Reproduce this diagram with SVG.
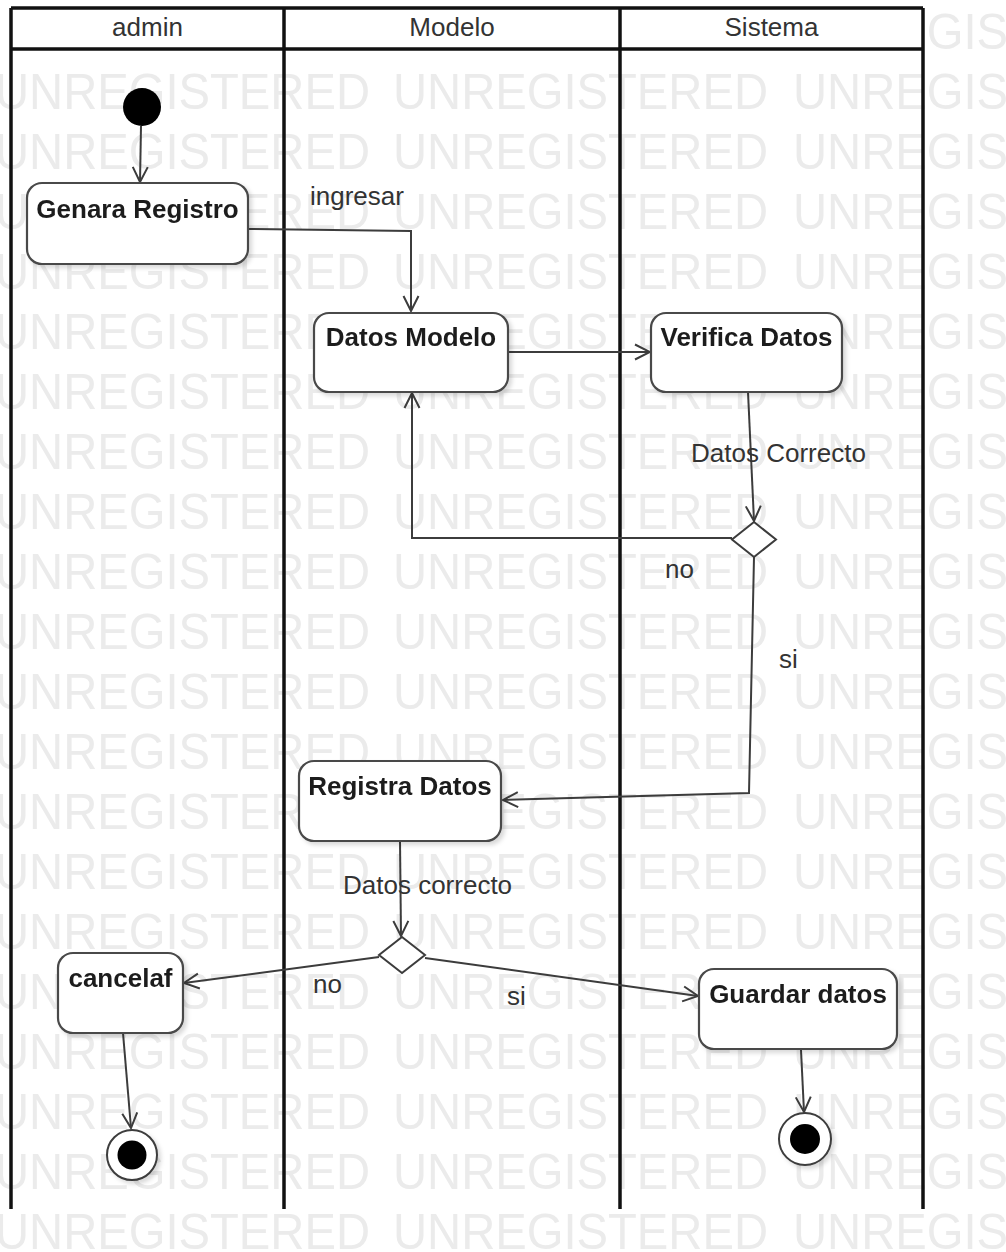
<svg xmlns="http://www.w3.org/2000/svg" width="1006" height="1252" viewBox="0 0 1006 1252">
  <defs>
    <style>
      .wm { font-family: "Liberation Sans", Arial, sans-serif; font-size: 50px; fill: #ebebeb; }
      .lane { stroke: #111; stroke-width: 3.5; fill: none; }
      .head { font-family: "Liberation Sans", Arial, sans-serif; font-size: 26px; fill: #333; text-anchor: middle; }
      .act { fill: #fff; stroke: #4a4a4a; stroke-width: 2.2; }
      .actlbl { font-family: "Liberation Sans", Arial, sans-serif; font-size: 26px; font-weight: bold; fill: #1e1e1e; text-anchor: middle; }
      .edge { fill: none; stroke: #3c3c3c; stroke-width: 2; }
      .elbl { font-family: "Liberation Sans", Arial, sans-serif; font-size: 26px; fill: #333; }
      .dec { fill: #fff; stroke: #3c3c3c; stroke-width: 2; }
    </style>
    <marker id="open" viewBox="0 0 18 18" refX="16" refY="9" markerWidth="18" markerHeight="18" markerUnits="userSpaceOnUse" orient="auto">
      <path d="M1,1.5 L16,9 L1,16.5" fill="none" stroke="#3c3c3c" stroke-width="2"/>
    </marker>
    <filter id="shadow" x="-10%" y="-10%" width="125%" height="130%">
      <feDropShadow dx="3" dy="3" stdDeviation="2" flood-color="#000" flood-opacity="0.15"/>
    </filter>
    <clipPath id="right-margin">
      <rect x="925" y="0" width="81" height="60"/>
    </clipPath>
  </defs>

  <rect x="0" y="0" width="1006" height="1252" fill="#fff"/>

  <!-- background watermark rows -->
  <g id="watermark">
    <g id="wm-row">
      <text class="wm" x="-5" y="109" textLength="375" lengthAdjust="spacingAndGlyphs">UNREGISTERED</text>
      <text class="wm" x="393" y="109" textLength="375" lengthAdjust="spacingAndGlyphs">UNREGISTERED</text>
      <text class="wm" x="793" y="109" textLength="375" lengthAdjust="spacingAndGlyphs">UNREGISTERED</text>
    </g>
    <text class="wm" x="793" y="49" textLength="375" lengthAdjust="spacingAndGlyphs" clip-path="url(#right-margin)">UNREGISTERED</text>
    <use href="#wm-row" y="60"/>
    <use href="#wm-row" y="120"/>
    <use href="#wm-row" y="180"/>
    <use href="#wm-row" y="240"/>
    <use href="#wm-row" y="300"/>
    <use href="#wm-row" y="360"/>
    <use href="#wm-row" y="420"/>
    <use href="#wm-row" y="480"/>
    <use href="#wm-row" y="540"/>
    <use href="#wm-row" y="600"/>
    <use href="#wm-row" y="660"/>
    <use href="#wm-row" y="720"/>
    <use href="#wm-row" y="780"/>
    <use href="#wm-row" y="840"/>
    <use href="#wm-row" y="900"/>
    <use href="#wm-row" y="960"/>
    <use href="#wm-row" y="1020"/>
    <use href="#wm-row" y="1080"/>
    <use href="#wm-row" y="1140"/>
  </g>

  <!-- swimlanes -->
  <g id="lanes">
    <rect x="11" y="8" width="912" height="41" fill="#fff"/>
    <line class="lane" x1="11" y1="8" x2="923" y2="8"/>
    <line class="lane" x1="11" y1="49" x2="923" y2="49"/>
    <line class="lane" x1="11" y1="8" x2="11" y2="1209"/>
    <line class="lane" x1="284" y1="8" x2="284" y2="1209"/>
    <line class="lane" x1="620" y1="8" x2="620" y2="1209"/>
    <line class="lane" x1="923" y1="8" x2="923" y2="1209"/>
    <text class="head" x="147.5" y="36">admin</text>
    <text class="head" x="452" y="36">Modelo</text>
    <text class="head" x="771.5" y="36">Sistema</text>
  </g>

  <!-- connectors -->
  <g id="connectors">
    <path class="edge" d="M141,126 L140,182" marker-end="url(#open)"/>
    <path class="edge" d="M248,229 L411,231 L411,311" marker-end="url(#open)"/>
    <path class="edge" d="M508,352 L650,352" marker-end="url(#open)"/>
    <path class="edge" d="M748,392 L754,521" marker-end="url(#open)"/>
    <path class="edge" d="M732,538 L412,538 L412,393" marker-end="url(#open)"/>
    <path class="edge" d="M754,557 L749,793 L503,800" marker-end="url(#open)"/>
    <path class="edge" d="M400,841 L401,936" marker-end="url(#open)"/>
    <path class="edge" d="M379,957 L184,983" marker-end="url(#open)"/>
    <path class="edge" d="M425,958 L698,996" marker-end="url(#open)"/>
    <path class="edge" d="M123,1033 L131,1128" marker-end="url(#open)"/>
    <path class="edge" d="M801,1050 L804,1112" marker-end="url(#open)"/>

    <text class="elbl" x="310" y="205">ingresar</text>
    <text class="elbl" x="691" y="462">Datos Correcto</text>
    <text class="elbl" x="665" y="578">no</text>
    <text class="elbl" x="779" y="668">si</text>
    <text class="elbl" x="343" y="894">Datos correcto</text>
    <text class="elbl" x="313" y="993">no</text>
    <text class="elbl" x="507" y="1005">si</text>
  </g>

  <!-- nodes -->
  <g id="start">
    <circle cx="142" cy="107" r="19" fill="#000"/>
  </g>

  <g id="genara-registro" filter="url(#shadow)">
    <rect class="act" x="27" y="183" width="221" height="81" rx="15"/>
    <text class="actlbl" x="137.5" y="218">Genara Registro</text>
  </g>

  <g id="datos-modelo" filter="url(#shadow)">
    <rect class="act" x="314" y="313" width="194" height="79" rx="15"/>
    <text class="actlbl" x="411" y="346">Datos Modelo</text>
  </g>

  <g id="verifica-datos" filter="url(#shadow)">
    <rect class="act" x="651" y="313" width="191" height="79" rx="15"/>
    <text class="actlbl" x="746.5" y="346">Verifica Datos</text>
  </g>

  <g id="decision-verifica">
    <polygon class="dec" points="754,522 776,539.5 754,557 732,539.5"/>
  </g>

  <g id="registra-datos" filter="url(#shadow)">
    <rect class="act" x="299" y="761" width="202" height="80" rx="15"/>
    <text class="actlbl" x="400" y="795">Registra Datos</text>
  </g>

  <g id="decision-registra">
    <polygon class="dec" points="402,937 425,955 402,973 379,955"/>
  </g>

  <g id="cancelaf" filter="url(#shadow)">
    <rect class="act" x="58" y="953" width="125" height="80" rx="15"/>
    <text class="actlbl" x="120.5" y="987">cancelaf</text>
  </g>

  <g id="guardar-datos" filter="url(#shadow)">
    <rect class="act" x="699" y="969" width="198" height="80" rx="15"/>
    <text class="actlbl" x="798" y="1003">Guardar datos</text>
  </g>

  <g id="end-cancel" filter="url(#shadow)">
    <circle cx="132" cy="1155" r="25" fill="#fff" stroke="#3c3c3c" stroke-width="2"/>
    <circle cx="132" cy="1155" r="14.5" fill="#000"/>
  </g>

  <g id="end-guardar" filter="url(#shadow)">
    <circle cx="805" cy="1139" r="26" fill="#fff" stroke="#3c3c3c" stroke-width="2"/>
    <circle cx="805" cy="1139" r="15" fill="#000"/>
  </g>
</svg>
